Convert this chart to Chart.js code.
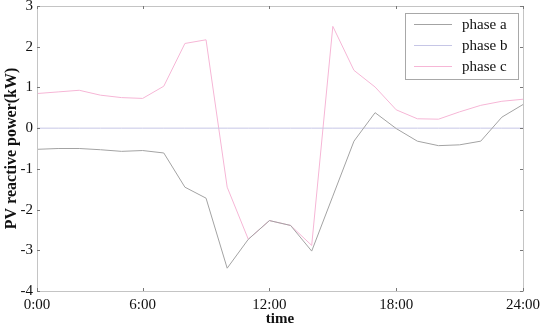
<!DOCTYPE html>
<html>
<head>
<meta charset="utf-8">
<script src="https://cdn.jsdelivr.net/npm/chart.js@4/dist/chart.umd.min.js"></script>
<style>
  html, body { margin: 0; padding: 0; background: #fff; }
  #wrap { width: 540px; height: 327px; position: relative; }
</style>
</head>
<body>
<div id="wrap"><canvas id="chart"></canvas></div>
<script>
// hour index along the x axis (tick at 1 is labelled 0:00)
const hours = [1, 2, 3, 4, 5, 6, 7, 8, 9, 10, 11, 12, 13, 14, 15, 16, 17, 18, 19, 20, 21, 22, 23, 24];
const phaseA = [-0.52, -0.50, -0.50, -0.53, -0.57, -0.55, -0.61, -1.45, -1.72, -3.44, -2.73, -2.27,
                -2.39, -3.02, -1.67, -0.32, 0.38, -0.01, -0.32, -0.43, -0.41, -0.32, 0.27, 0.58];
const phaseB = [0, 0, 0, 0, 0, 0, 0, 0, 0, 0, 0, 0, 0, 0, 0, 0, 0, 0, 0, 0, 0, 0, 0, 0];
const phaseC = [0.85, 0.89, 0.93, 0.81, 0.75, 0.73, 1.03, 2.08, 2.17, -1.45, -2.73, -2.27,
                -2.39, -2.88, 2.50, 1.42, 1.01, 0.45, 0.23, 0.22, 0.40, 0.56, 0.66, 0.71];
const xTickPos = [1, 6, 12, 18, 24];
const xTickLabels = ['0:00', '6:00', '12:00', '18:00', '24:00'];
const seriesNames = ['phase a', 'phase b', 'phase c'];
const seriesColors = ['#a3a3a3', '#c6c6e6', '#f6b6d6'];

const FONT = '"Liberation Serif", "Times New Roman", serif';
const pts = arr => arr.map((v, i) => ({ x: hours[i], y: v }));

// box, inward tick marks and the legend, MATLAB style
const boxPlugin = {
    id: 'box',
    afterDraw(chart) {
        const { ctx, chartArea: a, scales: { x, y } } = chart;
        ctx.save();
        ctx.strokeStyle = '#c4c4c4';
        ctx.lineWidth = 1;
        ctx.strokeRect(Math.round(a.left) + 0.5, Math.round(a.top) + 0.5,
                       Math.round(a.right - a.left), Math.round(a.bottom - a.top));
        ctx.strokeStyle = '#777';
        ctx.beginPath();
        x.ticks.forEach(t => {
            const px = Math.round(x.getPixelForValue(t.value)) + 0.5;
            ctx.moveTo(px, a.bottom); ctx.lineTo(px, a.bottom - 3);
            ctx.moveTo(px, a.top); ctx.lineTo(px, a.top + 3);
        });
        y.ticks.forEach(t => {
            const py = Math.round(y.getPixelForValue(t.value)) + 0.5;
            ctx.moveTo(a.left, py); ctx.lineTo(a.left + 3, py);
            ctx.moveTo(a.right, py); ctx.lineTo(a.right - 3, py);
        });
        ctx.stroke();

        // legend
        const lx = 405.5, ly = 13.5, lw = 113, lh = 66;
        ctx.fillStyle = '#fff';
        ctx.fillRect(lx, ly, lw, lh);
        ctx.strokeStyle = '#a8a8a8';
        ctx.strokeRect(lx, ly, lw, lh);
        ctx.font = '15px ' + FONT;
        ctx.textBaseline = 'middle';
        chart.data.datasets.forEach((ds, i) => {
            const yy = 24.5 + i * 21;
            ctx.strokeStyle = ds.borderColor;
            ctx.beginPath();
            ctx.moveTo(414, yy); ctx.lineTo(452, yy);
            ctx.stroke();
            ctx.fillStyle = '#111';
            ctx.fillText(ds.label, 462, yy + 1);
        });
        ctx.restore();
    }
};

new Chart(document.getElementById('chart'), {
    type: 'line',
    data: {
        datasets: [phaseA, phaseB, phaseC].map((arr, i) => ({
            label: seriesNames[i],
            data: pts(arr),
            borderColor: seriesColors[i],
            borderWidth: 1,
            pointRadius: 0,
            tension: 0,
            fill: false
        }))
    },
    options: {
        responsive: true,
        maintainAspectRatio: false,
        animation: false,
        layout: { padding: 0 },
        plugins: { legend: { display: false }, tooltip: { enabled: false } },
        scales: {
            x: {
                type: 'linear',
                min: 1, max: 24,
                afterBuildTicks: s => { s.ticks = xTickPos.map(v => ({ value: v })); },
                afterFit: s => { s.height = 36; s.paddingLeft = 0; s.paddingRight = 17; },
                grid: { display: false, drawTicks: false },
                border: { display: false },
                ticks: {
                    autoSkip: false, maxRotation: 0, padding: 7,
                    color: '#111', font: { family: FONT, size: 15, lineHeight: 1 },
                    callback: v => xTickLabels[xTickPos.indexOf(v)]
                },
                title: {
                    display: true, text: 'time', color: '#111',
                    font: { family: FONT, size: 15, weight: 'bold', lineHeight: 1 },
                    padding: { top: 0, bottom: 0 }
                }
            },
            y: {
                min: -4, max: 3,
                afterFit: s => { s.width = 37; s.paddingTop = 6; s.paddingBottom = 0; },
                grid: { display: false, drawTicks: false },
                border: { display: false },
                ticks: {
                    stepSize: 1, padding: 4,
                    color: '#111', font: { family: FONT, size: 15, lineHeight: 0.8 }
                },
                title: {
                    display: true, text: 'PV reactive power(kW)', color: '#111',
                    font: { family: FONT, size: 16, weight: 'bold', lineHeight: 1 },
                    padding: { top: 4, bottom: 2 }
                }
            }
        }
    },
    plugins: [boxPlugin]
});
</script>
</body>
</html>
